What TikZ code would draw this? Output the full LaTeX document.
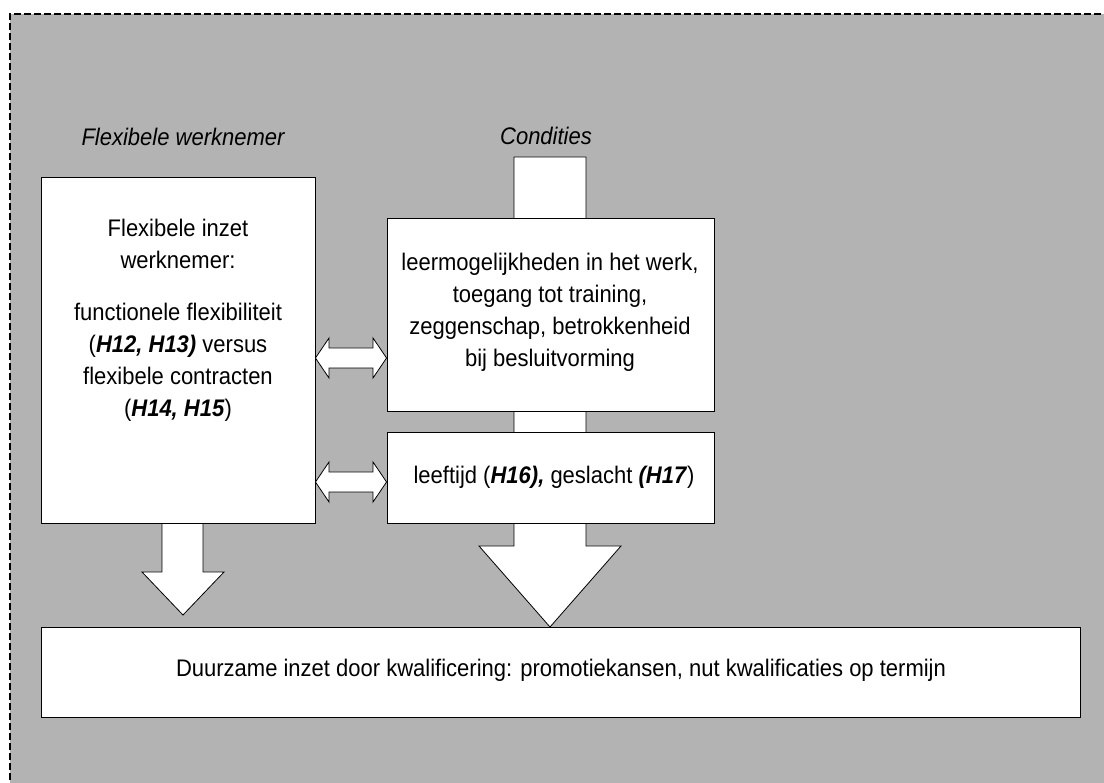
\documentclass[tikz,border=0pt]{standalone}
\usepackage{fontspec}
\setmainfont{Liberation Sans}
\definecolor{bg}{RGB}{179,179,179}
\newcommand{\bi}[1]{\textbf{\textit{#1}}}
\newcommand{\tall}[1]{\scalebox{1}[1.09]{\begin{tabular}{@{}c@{}}#1\end{tabular}}}
\begin{document}
\begin{tikzpicture}[x=1pt,y=-1pt,
  box/.style={draw, fill=white, line width=0.9pt, inner sep=0pt},
  txt/.style={font=\fontsize{22}{29.3}\selectfont, align=center, inner sep=0pt},
  lbl/.style={font=\fontsize{22}{26}\selectfont\itshape, inner sep=0pt},
  blk/.style={draw, fill=white, line width=0.8pt, line join=miter}]
\useasboundingbox (0,0) rectangle (1104,783);
\clip (0,0) rectangle (1104,783);
\fill[bg] (10,14) rectangle (1120,800);
\draw[dash pattern=on 7pt off 3pt, line width=2pt] (10,800) -- (10,14) -- (1120,14);

% labels
\node[lbl] (lab1) at (183,140) {\tall{Flexibele werknemer}};
\node[lbl] (lab2) at (546,139) {\tall{Condities}};

% block arrows (behind boxes)
\draw[blk] (514,157) -- (586,157) -- (586,546) -- (621,546) -- (550,627) -- (479,546) -- (514,546) -- cycle;
\draw[blk] (162,520) -- (203,520) -- (203,572) -- (224,572) -- (183,615) -- (142,572) -- (162,572) -- cycle;

% boxes
\node[box, minimum width=274pt, minimum height=346pt] (lb) at (178,350) {};
\node[txt] (lbt) at (178,320) {\tall{Flexibele inzet\\werknemer:\\[18pt]functionele flexibiliteit\\(\bi{H12, H13)} versus\\flexibele contracten\\(\bi{H14, H15})}};

\node[box, minimum width=327pt, minimum height=193pt] (mb) at (550.5,314.5) {};
\node[txt] (mbt) at (550,312) {\tall{leermogelijkheden in het werk,\\toegang tot training,\\zeggenschap, betrokkenheid\\bij besluitvorming}};

\node[box, minimum width=327pt, minimum height=91pt] (sb) at (550.5,477.5) {};
\node[txt] (sbt) at (554,477) {\tall{leeftijd (\bi{H16),} geslacht \bi{(H17})}};

\node[box, minimum width=1039pt, minimum height=90pt] (bb) at (560.5,672) {};
\node[txt] (bbt) at (561,670) {\tall{Duurzame inzet door kwalificering: promotiekansen, nut kwalificaties op termijn}};

% double arrows
\draw[blk] (lb.east |- 0,358) -- (329,338) -- (329,348) -- (373,348) -- (373,338) -- (mb.west |- 0,358) -- (373,378) -- (373,368) -- (329,368) -- (329,378) -- cycle;
\draw[blk] (lb.east |- 0,482) -- (329,462) -- (329,472) -- (373,472) -- (373,462) -- (sb.west |- 0,482) -- (373,502) -- (373,492) -- (329,492) -- (329,502) -- cycle;
\end{tikzpicture}
\end{document}
